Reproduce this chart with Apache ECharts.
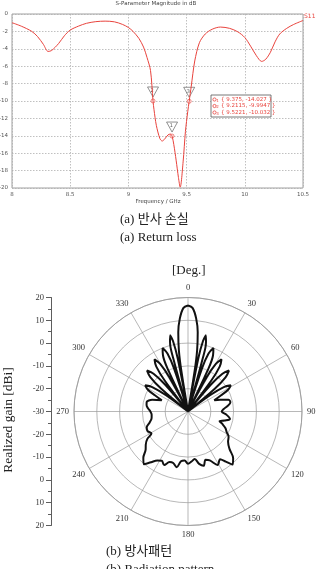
<!DOCTYPE html>
<html>
<head>
<meta charset="utf-8">
<script src="https://cdn.jsdelivr.net/npm/echarts@6/dist/echarts.min.js"></script>
<style>
html, body { margin: 0; padding: 0; background: #fff; }
#chart { width: 316px; height: 569px; }
</style>
</head>
<body>
<div id="chart"></div>
<script>
// S11 magnitude
const s11Freq = [8.00, 8.08, 8.17, 8.22, 8.27, 8.31, 8.34, 8.40, 8.45, 8.50, 8.57, 8.64, 8.72, 8.80, 8.88, 8.95,
  9.00, 9.04, 9.09, 9.13, 9.16, 9.19, 9.2115, 9.22, 9.24, 9.27, 9.29, 9.31, 9.34, 9.36, 9.375, 9.39, 9.41, 9.43,
  9.445, 9.47, 9.49, 9.51, 9.5221, 9.54, 9.57, 9.61, 9.66, 9.72, 9.79, 9.87, 9.94, 10.0, 10.05, 10.10, 10.145,
  10.18, 10.22, 10.26, 10.30, 10.36, 10.42, 10.50]
const s11Db = [-1.0, -1.4, -2.0, -2.6, -3.5, -4.3, -4.2, -3.4, -2.5, -1.85, -1.4, -1.07, -0.88, -0.82, -0.9, -1.2,
  -1.55, -2.0, -2.8, -3.8, -5.0, -6.5, -9.9947, -11.0, -12.8, -14.3, -14.6, -14.4, -13.9, -13.8, -14.027, -15.0, -16.8, -18.8,
  -19.9, -17.0, -13.5, -11.2, -10.032, -8.3, -5.4, -3.3, -2.3, -1.75, -1.5, -1.65, -2.05, -2.7, -3.7, -4.8, -5.45,
  -5.2, -4.4, -3.2, -2.3, -1.65, -1.2, -0.75]

const markerNames = ['1', '2', '3']
const markerFreq = [9.375, 9.2115, 9.5221]
const markerDb = [-14.027, -9.9947, -10.032]

// radiation pattern (deg, dBi)
const patternAngle = [
  0, 2.5, 5, 7, 8.5, 9.3, 10,
  11, 12, 13.2, 14.5, 15.5, 16.5,
  18, 19.5, 21.8, 24, 25.5, 27,
  28.5, 30.3, 32.7, 35.2, 37, 38.5,
  40.4, 42.4, 45, 47.6, 49.6, 51.5,
  53.5, 55.7, 58.5, 61.5, 64, 67,
  70, 74, 78, 82, 86, 90, 95, 100, 104, 107, 110, 114, 118, 122, 127, 132, 136, 140,
  143, 146, 151, 156, 160, 164, 168, 172, 176, 180,
  184, 188, 191.5, 196, 200, 204, 208, 212, 216, 220, 224, 228, 232, 236, 239,
  244, 249, 254, 260, 265, 270, 275, 279, 283, 288,
  293, 296, 298.5, 301.5, 304.3, 306.5, 308.5,
  310.4, 312.4, 315, 317.6, 319.6, 321.5,
  323, 324.8, 327.3, 329.7, 331.5, 333,
  334.5, 336, 338.2, 340.5, 342, 343.5,
  344.5, 345.5, 346.8, 348, 349, 350,
  350.7, 351.5, 353, 355, 357.5, 360]
const patternGain = [
  16.5, 15.5, 11, 5, -3, -12, -30,
  -6, 1.5, 4.3, 1.5, -6, -30,
  -10, -3, 0, -3, -10, -30,
  -13, -5.8, -2.8, -5.8, -13, -30,
  -14.6, -7.6, -4.6, -7.6, -14.6, -30,
  -18, -11, -8, -10, -14, -17.5,
  -15, -11.5, -11, -12.5, -14.3, -15.2, -13, -11.3, -13.5, -15.5, -14, -12, -10.8, -9, -8, -5.5, -1.5, 0.4,
  -2.5, -4.8, -3.2, -6.5, -7.5, -5.2, -6.5, -9, -8, -7.1,
  -8.5, -8, -5.1, -6.5, -6.4, -4.3, -5.5, -4.6, -2.5, 0.2, -1.8, -5, -6.5, -8.5, -11.3,
  -10.3, -10.6, -12.5, -13.8, -14, -13.5, -12.3, -11.6, -11.4, -13.5,
  -17.5, -14, -10, -8, -11, -18, -30,
  -14.6, -7.6, -4.6, -7.6, -14.6, -30,
  -13, -5.8, -2.8, -5.8, -13, -30,
  -10, -3, 0, -3, -10, -30,
  -6, 1.5, 4.3, 1.5, -6, -30,
  -12, -3, 5, 11, 15.5, 16.5]

const gainTickLabels = ['20', '10', '0', '-10', '-20', '-30', '-20', '-10', '0', '10', '20']

const serif = '"Liberation Serif", "Noto Sans CJK KR", serif'
const sans = '"DejaVu Sans", sans-serif'
const red = '#e8433d'

const chart = echarts.init(document.getElementById('chart'))

// marker readout box
const legendItems = []
markerNames.forEach((n, i) => {
  const y = 99.5 + i * 6.5
  legendItems.push({
    type: 'circle', z: 20, shape: { cx: 214.5, cy: y, r: 1.6 },
    style: { fill: 'none', stroke: red, lineWidth: 0.8 }
  })
  legendItems.push({
    type: 'text', z: 20, x: 216.3, y: y + 1.4,
    style: { text: n, fill: red, font: '4px ' + sans, verticalAlign: 'middle' }
  })
  legendItems.push({
    type: 'text', z: 20, x: 221, y: y,
    style: { text: '{ ' + markerFreq[i] + ', ' + markerDb[i] + ' }', fill: red, font: '5.5px ' + sans, verticalAlign: 'middle' }
  })
})

const option = {
  animation: false,
  grid: [
    { left: 12, top: 14, width: 291, height: 174, show: true, borderColor: '#a0a0a0', borderWidth: 1, outerBoundsMode: 'none' },
    { left: 51, top: 297.5, width: 1, height: 228, outerBoundsMode: 'none' }
  ],
  xAxis: [
    {
      gridIndex: 0, type: 'value', min: 8, max: 10.5, interval: 0.5,
      axisLine: { show: false }, axisTick: { show: false },
      axisLabel: { color: '#555', fontSize: 5.5, fontFamily: sans, margin: 4, showMinLabel: true, showMaxLabel: true },
      splitLine: { lineStyle: { color: '#b0b0b0', type: [1.5, 1.5], width: 0.8 } }
    },
    { gridIndex: 1, type: 'value', min: 0, max: 1, show: false }
  ],
  yAxis: [
    {
      gridIndex: 0, type: 'value', min: -20, max: 0, interval: 2,
      axisLine: { show: false }, axisTick: { show: false },
      axisLabel: { color: '#555', fontSize: 5.5, fontFamily: sans, margin: 4 },
      splitLine: { lineStyle: { color: '#b0b0b0', type: [1.5, 1.5], width: 0.8 } }
    },
    {
      gridIndex: 1, type: 'value', min: 0, max: 100, interval: 10,
      axisLine: { show: true, lineStyle: { color: '#333', width: 0.8 } },
      axisTick: { show: true, length: 5, lineStyle: { color: '#333', width: 0.8 } },
      minorTick: { show: true, splitNumber: 2, length: 3, lineStyle: { color: '#333', width: 0.8 } },
      axisLabel: {
        color: '#333', fontSize: 8.5, fontFamily: serif, margin: 7,
        formatter: v => gainTickLabels[Math.round((100 - v) / 10)]
      },
      splitLine: { show: false }
    }
  ],
  polar: { center: [188, 411.5], radius: 114 },
  angleAxis: {
    type: 'value', min: 0, max: 360, interval: 30, startAngle: 90, clockwise: true,
    axisLine: { lineStyle: { color: '#999', width: 0.8 } },
    axisTick: { show: false },
    axisLabel: { color: '#333', fontSize: 8.5, fontFamily: serif, margin: 5, formatter: v => (v === 360 ? '' : v) },
    splitLine: { show: true, lineStyle: { color: '#999', width: 0.7 } }
  },
  radiusAxis: {
    type: 'value', min: -30, max: 20, interval: 10,
    axisLine: { show: false }, axisTick: { show: false }, axisLabel: { show: false },
    splitLine: { show: true, lineStyle: { color: '#999', width: 0.7 } }
  },
  series: [
    {
      type: 'line', xAxisIndex: 0, yAxisIndex: 0,
      data: s11Freq.map((f, i) => [f, s11Db[i]]),
      showSymbol: false, smooth: 0.3,
      lineStyle: { color: red, width: 1 }
    },
    {
      type: 'scatter', xAxisIndex: 0, yAxisIndex: 0,
      data: markerFreq.map((f, i) => [f, markerDb[i]]),
      symbol: 'circle', symbolSize: 4,
      itemStyle: { color: '#fff', borderColor: red, borderWidth: 0.8 }
    },
    {
      type: 'scatter', xAxisIndex: 0, yAxisIndex: 0,
      data: markerFreq.map((f, i) => ({ value: [f, markerDb[i]], name: markerNames[i] })),
      symbol: 'triangle', symbolRotate: 180, symbolSize: [11, 10], symbolOffset: [0, -9],
      itemStyle: { color: '#fff', borderColor: '#555', borderWidth: 0.8 },
      label: { show: true, position: [3.5, 2], formatter: p => p.name, fontSize: 5, color: '#333', fontFamily: sans }
    },
    {
      type: 'line', coordinateSystem: 'polar',
      data: patternAngle.map((a, i) => [patternGain[i], a]),
      showSymbol: false, smooth: 0.35,
      lineStyle: { color: '#111', width: 2 }
    }
  ],
  graphic: [
    { type: 'text', x: 156, y: 4, style: { text: 'S-Parameter Magnitude in dB', fill: '#444', font: '5.5px ' + sans, align: 'center', verticalAlign: 'middle' } },
    { type: 'text', x: 304, y: 16, style: { text: 'S11', fill: red, font: '6px ' + sans, verticalAlign: 'middle' } },
    { type: 'text', x: 158, y: 202, style: { text: 'Frequency / GHz', fill: '#444', font: '5.5px ' + sans, align: 'center', verticalAlign: 'middle' } },
    { type: 'rect', z: 10, shape: { x: 211, y: 95, width: 60, height: 22 }, style: { fill: '#fff', stroke: '#555', lineWidth: 0.8 } },
    ...legendItems,
    { type: 'text', x: 120, y: 220, style: { text: '(a) 반사 손실', fill: '#222', font: '13px ' + serif, verticalAlign: 'middle' } },
    { type: 'text', x: 120, y: 238, style: { text: '(a) Return loss', fill: '#222', font: '13px ' + serif, verticalAlign: 'middle' } },
    { type: 'text', x: 172, y: 271, style: { text: '[Deg.]', fill: '#222', font: '13px ' + serif, verticalAlign: 'middle' } },
    { type: 'text', x: 8, y: 420, rotation: Math.PI / 2, style: { text: 'Realized gain [dBi]', fill: '#222', font: '13.5px ' + serif, align: 'center', verticalAlign: 'middle' } },
    { type: 'text', x: 106, y: 552, style: { text: '(b) 방사패턴', fill: '#222', font: '13px ' + serif, verticalAlign: 'middle' } },
    { type: 'text', x: 106, y: 570, style: { text: '(b) Radiation pattern', fill: '#222', font: '13px ' + serif, verticalAlign: 'middle' } }
  ]
}

chart.setOption(option)
</script>
</body>
</html>
